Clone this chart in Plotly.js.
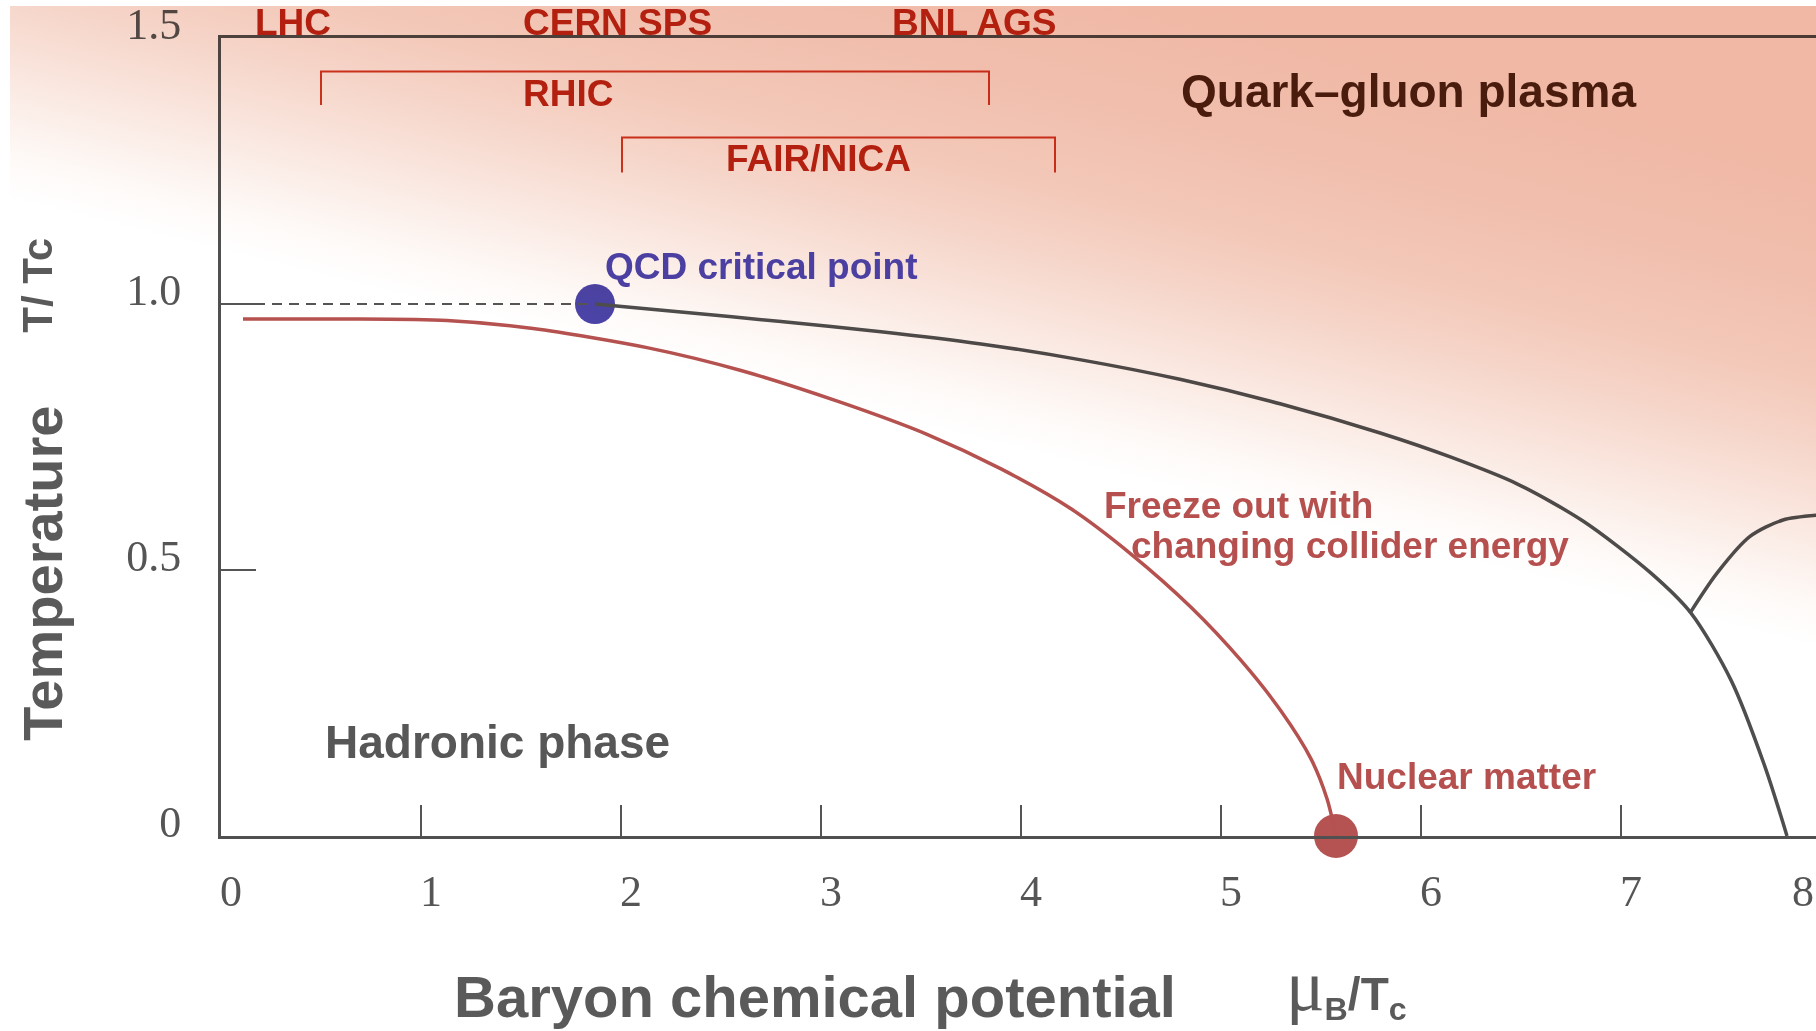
<!DOCTYPE html>
<html>
<head>
<meta charset="utf-8">
<script src="https://cdn.plot.ly/plotly-3.0.1.min.js"></script>
<style>
  html, body { margin: 0; padding: 0; background: #ffffff; }
  #chart { width: 1816px; height: 1031px; }
  /* the warm shading tints everything beneath it, like a multiply overlay */
  #chart .layer-above .imagelayer image { mix-blend-mode: multiply; }
</style>
</head>
<body>
<div id="chart"></div>
<script>
// ---- phase-diagram values (mu_B / T_c , T / T_c) ----
const transitionMu = [1.87, 2.3, 2.8, 3.3, 3.8, 4.3, 4.8, 5.3, 5.8, 6.15, 6.48, 6.81, 7.15, 7.35, 7.55, 7.72, 7.83];
const transitionT  = [1.0, 0.985, 0.967, 0.948, 0.925, 0.895, 0.858, 0.812, 0.757, 0.712, 0.662, 0.592, 0.494, 0.419, 0.293, 0.13, 0.0];

const branchMu = [7.345, 7.48, 7.645, 7.81, 7.98];
const branchT  = [0.419, 0.494, 0.563, 0.594, 0.603];

const freezeMu = [0.11, 0.6, 1.13, 1.56, 2.13, 2.6, 3.1, 3.53, 3.90, 4.25, 4.55, 4.85, 5.1, 5.3, 5.45, 5.53, 5.575];
const freezeT  = [0.972, 0.972, 0.969, 0.954, 0.918, 0.875, 0.815, 0.755, 0.690, 0.615, 0.530, 0.430, 0.330, 0.235, 0.145, 0.070, 0.0];

const crossoverMu = [0, 1.87];
const crossoverT  = [1.0, 1.0];

const criticalPointMu = [1.87];
const criticalPointT  = [1.0];

const nuclearMatterMu = [5.575];
const nuclearMatterT  = [0.0];

// collider reach along mu_B, and the height of each bracket
const rhicRange = [0.50, 3.84];
const rhicLevel = [1.374, 1.437];
const fairRange = [2.005, 4.17];
const fairLevel = [1.247, 1.313];

// axis ticks
const xTickVals = [0, 1, 2, 3, 4, 5, 6, 7];
const xTickText = ['0', '1', '2', '3', '4', '5', '6', '7'];
const xEdgeLabel = '8';
const yTickVals = [0, 0.5, 1.0, 1.5];
const yTickText = ['0', '0.5', '1.0', '1.5'];

// ---- page geometry ----
const W = 1816, H = 1031;
const M = { l: 221, r: 0, t: 38, b: 195 };
const plotW = W - M.l - M.r, plotH = H - M.t - M.b;
const toPaperX = px => (px - M.l) / plotW;
const toPaperY = py => (H - M.b - py) / plotH;

// Warm background shading, strongest towards the top right
function buildShade() {
  const ox = 10, oy = 6;
  const cw = W - ox, ch = H - oy;
  const cv = document.createElement('canvas');
  cv.width = cw; cv.height = ch;
  const g = cv.getContext('2d');
  const nx = 0.241, ny = -0.971, L = 480;
  const x0 = 0 - ox, y0 = 197 - oy;
  const grad = g.createLinearGradient(x0, y0, x0 + nx * L, y0 + ny * L);
  grad.addColorStop(0.00, '#ffffff');
  grad.addColorStop(0.08, '#fefaf8');
  grad.addColorStop(0.25, '#fae7e0');
  grad.addColorStop(0.40, '#f6d6ca');
  grad.addColorStop(0.55, '#f3c8b8');
  grad.addColorStop(0.75, '#f1bead');
  grad.addColorStop(1.00, '#f0b8a5');
  g.fillStyle = grad;
  g.fillRect(0, 0, cw, ch);
  return {
    src: cv.toDataURL('image/png'),
    x: toPaperX(ox), y: toPaperY(oy),
    sx: cw / plotW, sy: ch / plotH
  };
}
const shade = buildShade();

const SANS = 'Liberation Sans, Arial, Helvetica, sans-serif';
const SERIF = 'Liberation Serif, Times New Roman, serif';

const bracket = (range, level) => ({
  x: [range[0], range[0], range[1], range[1]],
  y: [level[0], level[1], level[1], level[0]],
  mode: 'lines', type: 'scatter', hoverinfo: 'skip',
  line: { color: '#d23a22', width: 2 }
});

const traces = [
  {
    x: criticalPointMu, y: criticalPointT, type: 'scatter', mode: 'markers',
    marker: { size: 40, color: '#4b44a8' }, cliponaxis: false, hoverinfo: 'skip'
  },
  {
    x: nuclearMatterMu, y: nuclearMatterT, type: 'scatter', mode: 'markers',
    marker: { size: 44, color: '#b55352' }, cliponaxis: false, hoverinfo: 'skip'
  },
  {
    x: crossoverMu, y: crossoverT, type: 'scatter', mode: 'lines',
    line: { color: '#555555', width: 2.2, dash: '10px,7px' }, hoverinfo: 'skip'
  },
  {
    x: transitionMu, y: transitionT, type: 'scatter', mode: 'lines',
    line: { color: '#4e4e4e', width: 3.5, shape: 'spline', smoothing: 0.8 }, hoverinfo: 'skip'
  },
  {
    x: branchMu, y: branchT, type: 'scatter', mode: 'lines',
    line: { color: '#4e4e4e', width: 3.5, shape: 'spline', smoothing: 0.8 }, hoverinfo: 'skip'
  },
  {
    x: freezeMu, y: freezeT, type: 'scatter', mode: 'lines',
    line: { color: '#b5514f', width: 3.5, shape: 'spline', smoothing: 0.8 }, hoverinfo: 'skip'
  },
  bracket(rhicRange, rhicLevel),
  bracket(fairRange, fairLevel)
];

const label = (text, x, y, opts) => Object.assign({
  text: text, x: x, y: y, xref: 'x', yref: 'y', showarrow: false,
  xanchor: 'center', yanchor: 'middle',
  font: { family: SANS, size: 37, weight: 700, color: '#b3200f' }
}, opts || {});

const annotations = [
  label('LHC', 0.3575, toPaperY(23), { yref: 'paper' }),
  label('CERN SPS', 1.98, toPaperY(23), { yref: 'paper' }),
  label('BNL AGS', 3.765, toPaperY(23), { yref: 'paper' }),
  label('RHIC', 1.7325, 1.396),
  label('FAIR/NICA', 2.985, 1.2726),
  label('Quark\u2013gluon plasma', 5.935, 1.4004,
    { font: { family: SANS, size: 46, weight: 700, color: '#4a1c0e' } }),
  label('QCD critical point', 2.699, 1.0709,
    { font: { family: SANS, size: 37, weight: 700, color: '#4b40a2' } }),
  label('Freeze out with', 4.4025, 0.6212,
    { xanchor: 'left', font: { family: SANS, size: 37, weight: 700, color: '#b5504f' } }),
  label('changing collider energy', 4.54, 0.547,
    { xanchor: 'left', font: { family: SANS, size: 37, weight: 700, color: '#b5504f' } }),
  label('Nuclear matter', 5.57, 0.1115,
    { xanchor: 'left', font: { family: SANS, size: 37, weight: 700, color: '#b5504f' } }),
  label('Hadronic phase', 0.51, 0.1773,
    { xanchor: 'left', font: { family: SANS, size: 46, weight: 700, color: '#575757' } }),
  // axis titles
  label('Baryon chemical potential', toPaperX(814.6), toPaperY(996.5),
    { xref: 'paper', yref: 'paper', font: { family: SANS, size: 58, weight: 700, color: '#5a5a5a' } }),
  label('<span style="font-family:\'Liberation Serif\',serif;font-weight:400;font-size:72px">\u03bc</span><sub>B</sub>/T<sub>c</sub>',
    toPaperX(1346), toPaperY(986),
    { xref: 'paper', yref: 'paper', font: { family: SANS, size: 46, weight: 700, color: '#5a5a5a' } }),
  label('Temperature', toPaperX(41.7), toPaperY(573),
    { xref: 'paper', yref: 'paper', textangle: -90, font: { family: SANS, size: 56, weight: 700, color: '#5a5a5a' } }),
  label('T/ Tc', toPaperX(36.7), toPaperY(285),
    { xref: 'paper', yref: 'paper', textangle: -90, font: { family: SANS, size: 42, weight: 700, color: '#5a5a5a' } }),
  // last mu_B tick label, sitting at the cut right edge
  label(xEdgeLabel, toPaperX(1803), toPaperY(891),
    { xref: 'paper', yref: 'paper', font: { family: SERIF, size: 44, weight: 400, color: '#555555' } })
];

const layout = {
  width: W, height: H,
  margin: M,
  paper_bgcolor: '#ffffff',
  plot_bgcolor: 'rgba(0,0,0,0)',
  showlegend: false,
  xaxis: {
    range: [0, plotW / 200],
    tickmode: 'array', tickvals: xTickVals, ticktext: xTickText,
    ticks: 'inside', ticklen: 31, tickwidth: 2, tickcolor: '#555555',
    showline: true, linecolor: '#505050', linewidth: 3, mirror: true,
    showgrid: false, zeroline: false, fixedrange: true,
    tickfont: { family: SERIF, size: 44, color: '#555555' },
    ticklabelstandoff: 14, ticklabelshift: 10
  },
  yaxis: {
    range: [0, 1.5],
    tickmode: 'array', tickvals: yTickVals, ticktext: yTickText,
    ticks: 'inside', ticklen: 35, tickwidth: 2, tickcolor: '#555555',
    showline: true, linecolor: '#505050', linewidth: 3,
    showgrid: false, zeroline: false, fixedrange: true,
    tickfont: { family: SERIF, size: 44, color: '#555555' },
    ticklabelstandoff: 28, ticklabelshift: -14
  },
  images: [{
    source: shade.src, xref: 'paper', yref: 'paper',
    x: shade.x, y: shade.y, sizex: shade.sx, sizey: shade.sy,
    xanchor: 'left', yanchor: 'top', sizing: 'stretch', layer: 'above'
  }],
  annotations: annotations
};

Plotly.newPlot('chart', traces, layout, { staticPlot: true, displayModeBar: false });
</script>
</body>
</html>
